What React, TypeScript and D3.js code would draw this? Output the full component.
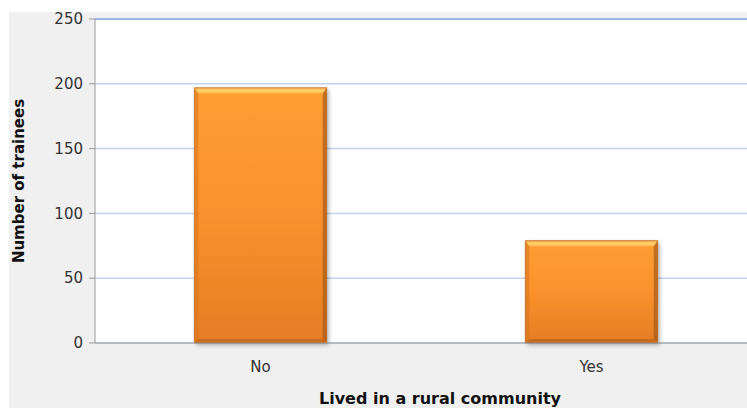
import React from "react";
import * as d3 from "d3";

const categories = ["No", "Yes"];
const values = [197, 79];
const yTicks = [0, 50, 100, 150, 200, 250];
const yTitle = "Number of trainees";
const xTitle = "Lived in a rural community";

export default function App() {
  const W = 747, H = 408;
  const left = 95, right = 757, top = 19, bottom = 343;
  const x = d3.scaleBand<string>().domain(categories).range([left, right]).paddingInner(0.6).paddingOuter(0.3);
  const y = d3.scaleLinear().domain([0, 250]).range([bottom, top]);
  const bw = x.bandwidth();
  const b = 6;
  const s = 4;
  return (
    <svg width={W} height={H} style={{ position: "absolute", left: 0, top: 0, fontFamily: "DejaVu Sans, sans-serif" }}>
      <defs>
        <linearGradient id="gMain" x1="0" y1="0" x2="0" y2="1">
          <stop offset="0" stopColor="#fe9f33" />
          <stop offset="0.5" stopColor="#fa912d" />
          <stop offset="1" stopColor="#e47d24" />
        </linearGradient>
        <linearGradient id="gTop" x1="0" y1="0" x2="0" y2="1">
          <stop offset="0" stopColor="#f6a74a" />
          <stop offset="0.5" stopColor="#ffd46c" />
          <stop offset="1" stopColor="#fdae42" />
        </linearGradient>
        <filter id="sh" x="-10%" y="-10%" width="130%" height="130%">
          <feDropShadow dx="2" dy="2" stdDeviation="2" floodColor="#000" floodOpacity="0.3" />
        </filter>
      </defs>
      <rect x={9} y={12} width={W - 9} height={H - 12} fill="#f0f0f0" />
      <rect x={left} y={top} width={W - left} height={bottom - top} fill="#ffffff" />
      {yTicks.map((t) => (
        <g key={t}>
          <line x1={left} x2={W} y1={y(t)} y2={y(t)} stroke={t === 250 ? "#98b4e4" : "#c3d3ef"} strokeWidth={t === 250 ? 2 : 1.5} />
          <line x1={left - 6} x2={left} y1={y(t)} y2={y(t)} stroke="#999" />
          <text x={left - 12} y={y(t)} dy="0.35em" textAnchor="end" fontSize={15} fill="#333">{t}</text>
        </g>
      ))}
      {categories.map((c, i) => {
        const x0 = x(c)!, x1 = x0 + bw, y0 = y(values[i]), y1 = bottom;
        return (
          <g key={c}>
            <rect x={x0} y={y0} width={bw} height={y1 - y0} fill="url(#gMain)" filter="url(#sh)" />
            <polygon points={`${x0},${y0} ${x1},${y0} ${x1 - s},${y0 + b} ${x0 + s},${y0 + b}`} fill="url(#gTop)" />
            <polygon points={`${x0},${y0} ${x0 + s},${y0 + b} ${x0 + s},${y1 - s} ${x0},${y1}`} fill="#d9761e" opacity={0.6} />
            <polygon points={`${x1},${y0} ${x1 - s},${y0 + b} ${x1 - s},${y1 - s} ${x1},${y1}`} fill="#a85a18" opacity={0.7} />
            <polygon points={`${x0},${y1} ${x0 + s},${y1 - s} ${x1 - s},${y1 - s} ${x1},${y1}`} fill="#c2661c" opacity={0.8} />
            <rect x={x0} y={y0} width={bw} height={y1 - y0} fill="none" stroke="#a85a18" strokeWidth={1} opacity={0.5} />
            <text x={x0 + bw / 2} y={bottom + 29} textAnchor="middle" fontSize={15} fill="#333">{c}</text>
          </g>
        );
      })}
      <line x1={left} x2={left} y1={top} y2={bottom} stroke="#999" />
      <line x1={left} x2={W} y1={bottom} y2={bottom} stroke="#999" />
      <text transform={`translate(24,${(top + bottom) / 2}) rotate(-90)`} textAnchor="middle" fontSize={15} fontWeight="bold" fill="#111">{yTitle}</text>
      <text x={440} y={404} textAnchor="middle" fontSize={16} fontWeight="bold" fill="#111">{xTitle}</text>
    </svg>
  );
}
